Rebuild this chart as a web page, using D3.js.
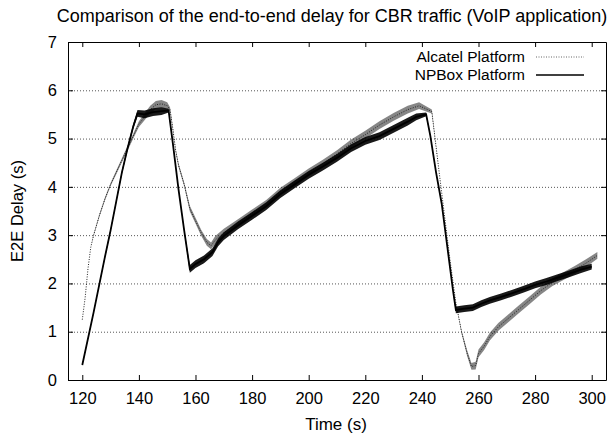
<!DOCTYPE html>
<html>
<head>
<meta charset="utf-8">
<script src="https://cdn.jsdelivr.net/npm/d3@7"></script>
<style>
  body { margin: 0; background: #fff; }
  svg { display: block; font-family: "Liberation Sans", Arial, Helvetica, sans-serif; }
  .axis text { font-size: 16.5px; fill: #000; }
  .axis path, .axis line { stroke: #000; }
  .grid line { stroke: #555; stroke-dasharray: 1,2; }
</style>
</head>
<body>
<svg id="chart" width="610" height="437"></svg>
<script>
const xTicks = [120, 140, 160, 180, 200, 220, 240, 260, 280, 300];
const yTicks = [0, 1, 2, 3, 4, 5, 6, 7];
const gridTicks = [1, 2, 3, 4, 5, 6];
const seriesNames = ['Alcatel Platform', 'NPBox Platform'];

// Alcatel platform (dotted)
const alcatelTime = [120, 121, 122, 123, 124, 126, 128, 130, 132, 134, 136, 138, 140, 142, 144, 146, 148, 150, 151,
  152, 153, 154, 155, 156, 157, 158, 160, 162, 164, 165.5, 167, 170, 175, 180, 185, 190, 195, 200, 205, 210, 215,
  220, 225, 230, 235, 239, 243.5, 246, 248, 250, 252, 254, 256, 257.5, 259, 260, 262, 264, 267, 270, 274, 278, 282,
  286, 290, 294, 298, 302];
const alcatelDelay = [1.25, 1.7, 2.3, 2.75, 3.0, 3.4, 3.75, 4.05, 4.3, 4.55, 4.8, 5.05, 5.3, 5.45, 5.6, 5.7, 5.72, 5.68, 5.6,
  5.2, 4.75, 4.45, 4.25, 4.05, 3.8, 3.55, 3.3, 3.05, 2.85, 2.78, 2.9, 3.05, 3.25, 3.45, 3.65, 3.9, 4.1, 4.3, 4.48, 4.68, 4.9,
  5.08, 5.28, 5.45, 5.6, 5.68, 5.56, 4.35, 3.4, 2.45, 1.6, 1.0, 0.55, 0.28, 0.3, 0.55, 0.7, 0.9, 1.1, 1.25, 1.45, 1.65, 1.85,
  2.02, 2.15, 2.28, 2.42, 2.58];
const alcatelSpread = [0, 0, 0, 0, 0.02, 0.03, 0.03, 0.03, 0.04, 0.04, 0.05, 0.05, 0.06, 0.07, 0.08, 0.08, 0.08, 0.07, 0.05,
  0.03, 0.03, 0.04, 0.04, 0.04, 0.05, 0.06, 0.06, 0.06, 0.07, 0.07, 0.08, 0.08, 0.08, 0.08, 0.08, 0.08, 0.08, 0.08, 0.08, 0.08, 0.08,
  0.08, 0.08, 0.08, 0.08, 0.07, 0.04, 0, 0, 0, 0, 0.03, 0.06, 0.07, 0.08, 0.08, 0.08, 0.08, 0.08, 0.08, 0.08, 0.08, 0.08,
  0.08, 0.08, 0.08, 0.08, 0.07];

// NPBox platform (solid)
const npboxTime = [120, 124, 128, 130, 132, 134, 136, 138, 139.5, 142, 145, 148, 150.5, 152, 154, 156, 158, 160, 163, 166,
  168, 170, 175, 180, 185, 190, 195, 200, 205, 210, 215, 220, 225, 230, 235, 238, 241.5, 243, 245, 247, 249, 251, 252,
  255, 258, 261, 264, 268, 272, 276, 280, 284, 288, 292, 296, 300];
const npboxDelay = [0.31, 1.4, 2.55, 3.1, 3.7, 4.3, 4.8, 5.25, 5.52, 5.5, 5.55, 5.57, 5.58, 4.9, 3.95, 3.1, 2.3, 2.4, 2.5, 2.65,
  2.85, 2.98, 3.2, 3.4, 3.6, 3.85, 4.05, 4.25, 4.42, 4.6, 4.8, 4.95, 5.05, 5.2, 5.35, 5.45, 5.5, 5.05, 4.3, 3.65, 2.75, 1.85, 1.45,
  1.48, 1.5, 1.58, 1.65, 1.72, 1.8, 1.88, 1.97, 2.04, 2.12, 2.2, 2.28, 2.35];
const npboxSpread = [0.02, 0.02, 0.03, 0.03, 0.03, 0.04, 0.04, 0.05, 0.07, 0.08, 0.08, 0.08, 0.04, 0.02, 0.02, 0.03, 0.08, 0.08, 0.08, 0.08,
  0.08, 0.08, 0.08, 0.08, 0.08, 0.08, 0.08, 0.08, 0.08, 0.08, 0.08, 0.08, 0.08, 0.08, 0.08, 0.07, 0.04, 0.02, 0.02, 0.02, 0.02, 0.02, 0.07,
  0.07, 0.07, 0.07, 0.07, 0.07, 0.07, 0.07, 0.07, 0.07, 0.07, 0.07, 0.07, 0.06];

const MARGIN = { top: 42, right: 4, bottom: 57, left: 68 };
const W = 610, H = 437;
const TICK = 5;

const $svg = d3.select('#chart');
const width = W - MARGIN.left - MARGIN.right;
const height = H - MARGIN.top - MARGIN.bottom;

const x = d3.scaleLinear().domain([114.95, 305.05]).range([MARGIN.left, MARGIN.left + width]);
const y = d3.scaleLinear().domain([0, 7]).range([MARGIN.top + height, MARGIN.top]);
const fmt = d3.format('d');

// grid
$svg.append('g')
  .attr('class', 'grid')
  .attr('transform', `translate(${MARGIN.left},0)`)
  .call(d3.axisLeft(y).tickValues(gridTicks).tickSize(-width).tickFormat(''))
  .call(g => g.select('.domain').remove());

function toRows(t, v, s) {
  return t.map((d, i) => ({ t: d, v: v[i], s: s[i] }));
}

const alcatel = toRows(alcatelTime, alcatelDelay, alcatelSpread);
const npbox = toRows(npboxTime, npboxDelay, npboxSpread);

const band = d3.area()
  .x(d => x(d.t))
  .y0(d => y(d.v - d.s))
  .y1(d => y(d.v + d.s));
const line = d3.line().x(d => x(d.t)).y(d => y(d.v));

const $plot = $svg.append('g');

$plot.append('path')
  .datum(alcatel)
  .attr('d', band)
  .attr('fill', '#222')
  .attr('fill-opacity', 0.55);
$plot.append('path')
  .datum(alcatel)
  .attr('d', line)
  .attr('fill', 'none')
  .attr('stroke', '#222')
  .attr('stroke-width', 1)
  .attr('stroke-dasharray', '1,1.5');

$plot.append('path')
  .datum(npbox)
  .attr('d', band)
  .attr('fill', '#000')
  .attr('fill-opacity', 0.9);
$plot.append('path')
  .datum(npbox)
  .attr('d', line)
  .attr('fill', 'none')
  .attr('stroke', '#000')
  .attr('stroke-width', 1.8);

// axes (frame + inward ticks)
$svg.append('g')
  .attr('class', 'axis')
  .attr('transform', `translate(0,${MARGIN.top + height})`)
  .call(d3.axisBottom(x).tickValues(xTicks).tickFormat(fmt).tickSizeInner(-TICK).tickSizeOuter(0).tickPadding(12));
$svg.append('g')
  .attr('class', 'axis')
  .attr('transform', `translate(0,${MARGIN.top})`)
  .call(d3.axisTop(x).tickValues(xTicks).tickSizeInner(-TICK).tickSizeOuter(0).tickFormat(''));
$svg.append('g')
  .attr('class', 'axis')
  .attr('transform', `translate(${MARGIN.left},0)`)
  .call(d3.axisLeft(y).tickValues(yTicks).tickFormat(fmt).tickSizeInner(-TICK).tickSizeOuter(0).tickPadding(11));
$svg.append('g')
  .attr('class', 'axis')
  .attr('transform', `translate(${MARGIN.left + width},0)`)
  .call(d3.axisRight(y).tickValues(yTicks).tickSizeInner(-TICK).tickSizeOuter(0).tickFormat(''));

// titles
$svg.append('text')
  .attr('x', 332)
  .attr('y', 22)
  .attr('text-anchor', 'middle')
  .attr('font-size', 18)
  .text('Comparison of the end-to-end delay for CBR traffic (VoIP application)');

$svg.append('text')
  .attr('x', 336)
  .attr('y', 430)
  .attr('text-anchor', 'middle')
  .attr('font-size', 17)
  .text('Time (s)');

$svg.append('text')
  .attr('transform', `translate(23,${MARGIN.top + height / 2}) rotate(-90)`)
  .attr('text-anchor', 'middle')
  .attr('font-size', 16.5)
  .text('E2E Delay (s)');

// legend
const $legend = $svg.append('g').attr('transform', 'translate(525,57)');
const $item = $legend.selectAll('g')
  .data(seriesNames)
  .join('g')
  .attr('transform', (d, i) => `translate(0,${i * 18})`);
$item.append('text')
  .attr('text-anchor', 'end')
  .attr('dy', '0.35em')
  .attr('font-size', 15.5)
  .text(d => d);
$item.append('line')
  .attr('x1', 11)
  .attr('x2', 59)
  .attr('stroke', '#000')
  .attr('stroke-width', (d, i) => (i ? 1.5 : 1))
  .attr('stroke-dasharray', (d, i) => (i ? null : '1,1.5'))
  .attr('stroke-opacity', (d, i) => (i ? 1 : 0.6));
</script>
</body>
</html>
